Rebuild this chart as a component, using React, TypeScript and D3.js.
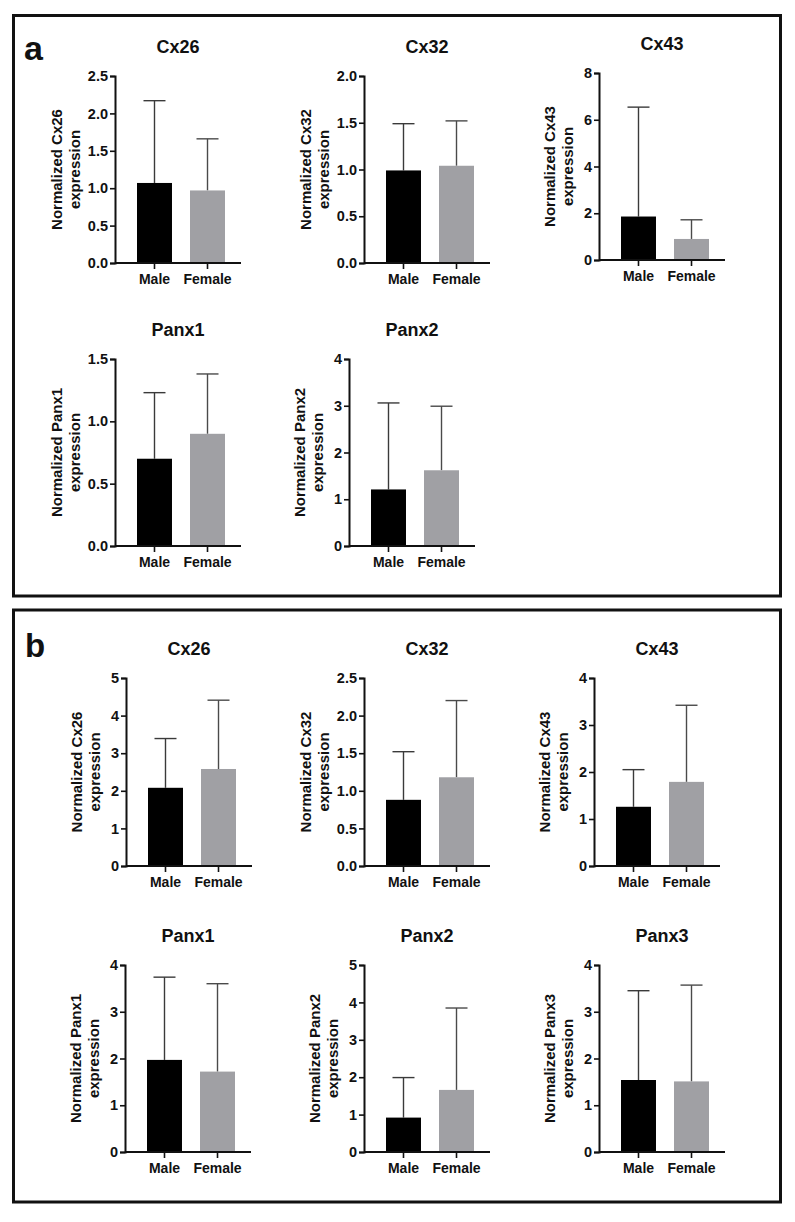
import React, { useEffect, useRef } from "react";
import * as d3 from "d3";

// sex groups
const groups = ["Male", "Female"];

// panel a
const genesA = ["Cx26", "Cx32", "Cx43", "Panx1", "Panx2"];
const maleA = [1.07, 0.99, 1.86, 0.7, 1.21];
const maleTopA = [2.17, 1.49, 6.54, 1.23, 3.06];
const femaleA = [0.97, 1.04, 0.9, 0.9, 1.62];
const femaleTopA = [1.66, 1.52, 1.72, 1.38, 2.99];
const yMaxA = [2.5, 2.0, 8, 1.5, 4];
const yStepA = [0.5, 0.5, 2, 0.5, 1];

// panel b
const genesB = ["Cx26", "Cx32", "Cx43", "Panx1", "Panx2", "Panx3"];
const maleB = [2.08, 0.88, 1.26, 1.97, 0.92, 1.54];
const maleTopB = [3.39, 1.52, 2.05, 3.74, 1.99, 3.45];
const femaleB = [2.58, 1.18, 1.79, 1.72, 1.66, 1.51];
const femaleTopB = [4.41, 2.2, 3.42, 3.6, 3.85, 3.57];
const yMaxB = [5, 2.5, 4, 4, 5, 4];
const yStepB = [1, 0.5, 1, 1, 1, 1];

// where each little plot sits (y-axis x, top of axis, bottom of axis)
const layoutA = [
    { x: 115, top: 76, bottom: 263 },
    { x: 364, top: 76, bottom: 263 },
    { x: 599, top: 73, bottom: 260 },
    { x: 115, top: 359, bottom: 546 },
    { x: 349, top: 359, bottom: 546 },
];
const layoutB = [
    { x: 126, top: 678, bottom: 866 },
    { x: 364, top: 678, bottom: 866 },
    { x: 594, top: 678, bottom: 866 },
    { x: 125, top: 965, bottom: 1152 },
    { x: 364, top: 965, bottom: 1152 },
    { x: 599, top: 965, bottom: 1152 },
];

const FONT = "'Liberation Sans', Arial, Helvetica, sans-serif";
const barColors = { Male: "#000000", Female: "#a0a0a4" };
const errColors = { Male: "#3a3a3a", Female: "#4a4a4a" };
const AXIS_LEN = 126;

function BarPlot({ gene, values, tops, yMax, yStep, pos }) {
    const yAxisRef = useRef(null);
    const xAxisRef = useRef(null);

    const decimal = yStep < 1;
    const y = d3.scaleLinear().domain([0, yMax]).range([pos.bottom - pos.top, 0]);
    const x = d3.scaleBand().domain(groups).range([22, 110]).paddingInner(0.34);
    const h = pos.bottom - pos.top;

    useEffect(() => {
        const ticks = d3.range(0, yMax + yStep / 2, yStep);
        const yAxis = d3
            .axisLeft(y)
            .tickValues(ticks)
            .tickSizeOuter(0)
            .tickSize(5)
            .tickPadding(2)
            .tickFormat(decimal ? d3.format(".1f") : d3.format("d"));
        const gy = d3.select(yAxisRef.current);
        gy.selectAll("*").remove();
        gy.call(yAxis);
        gy.select(".domain").attr("stroke-width", 2).attr("stroke", "#111");
        gy.selectAll(".tick line").attr("stroke-width", 1.6).attr("stroke", "#111");
        gy.selectAll(".tick text")
            .attr("font-family", FONT)
            .attr("font-weight", "bold")
            .attr("font-size", 14.5)
            .attr("fill", "#111");

        const xAxis = d3.axisBottom(x).tickSize(6).tickPadding(5).tickSizeOuter(0);
        const gx = d3.select(xAxisRef.current);
        gx.selectAll("*").remove();
        gx.call(xAxis);
        gx.select(".domain").remove();
        gx.selectAll(".tick line").attr("stroke-width", 1.6).attr("stroke", "#111");
        gx.selectAll(".tick text")
            .attr("font-family", FONT)
            .attr("font-weight", "bold")
            .attr("font-size", 14)
            .attr("fill", "#111");
    }, [gene, yMax, yStep]);

    const labelOff = decimal ? 58 : 49;
    const capHalf = 11;

    return (
        <g transform={`translate(${pos.x},${pos.top})`}>
            <text
                x={AXIS_LEN / 2}
                y={-23}
                textAnchor="middle"
                fontFamily={FONT}
                fontWeight="bold"
                fontSize={18}
                fill="#111"
            >
                {gene}
            </text>
            <g transform={`translate(${-labelOff},${h / 2}) rotate(-90)`}>
                <text textAnchor="middle" dy="0.35em" fontFamily={FONT} fontWeight="bold" fontSize={15} fill="#111">
                    {`Normalized ${gene}`}
                </text>
            </g>
            <g transform={`translate(${-labelOff + 18},${h / 2}) rotate(-90)`}>
                <text textAnchor="middle" dy="0.35em" fontFamily={FONT} fontWeight="bold" fontSize={15} fill="#111">
                    expression
                </text>
            </g>
            {groups.map((g, i) => {
                const cx = x(g) + x.bandwidth() / 2;
                return (
                    <g key={g}>
                        <line x1={cx} x2={cx} y1={y(values[i])} y2={y(tops[i])} stroke={errColors[g]} strokeWidth={1.4} />
                        <line x1={cx - capHalf} x2={cx + capHalf} y1={y(tops[i])} y2={y(tops[i])} stroke={errColors[g]} strokeWidth={1.4} />
                        <rect x={x(g)} y={y(values[i])} width={x.bandwidth()} height={y(0) - y(values[i])} fill={barColors[g]} />
                    </g>
                );
            })}
            <g ref={xAxisRef} transform={`translate(0,${h})`} />
            <line x1={0} x2={AXIS_LEN} y1={h} y2={h} stroke="#111" strokeWidth={2} />
            <g ref={yAxisRef} />
        </g>
    );
}

export default function App() {
    return (
        <svg
            width={795}
            height={1222}
            style={{ position: "absolute", left: 0, top: 0, background: "#fff" }}
        >
            <rect x={0} y={0} width={795} height={1222} fill="#fff" />
            <rect x={13.5} y={15.5} width={767} height={580.5} fill="none" stroke="#111" strokeWidth={3} />
            <rect x={13.5} y={610} width={767} height={592} fill="none" stroke="#111" strokeWidth={3} />
            <text x={24} y={60} fontFamily={FONT} fontWeight="bold" fontSize={34} fill="#111">a</text>
            <text x={25} y={657} fontFamily={FONT} fontWeight="bold" fontSize={33} fill="#111">b</text>
            {genesA.map((g, i) => (
                <BarPlot
                    key={"a" + g}
                    gene={g}
                    values={[maleA[i], femaleA[i]]}
                    tops={[maleTopA[i], femaleTopA[i]]}
                    yMax={yMaxA[i]}
                    yStep={yStepA[i]}
                    pos={layoutA[i]}
                />
            ))}
            {genesB.map((g, i) => (
                <BarPlot
                    key={"b" + g}
                    gene={g}
                    values={[maleB[i], femaleB[i]]}
                    tops={[maleTopB[i], femaleTopB[i]]}
                    yMax={yMaxB[i]}
                    yStep={yStepB[i]}
                    pos={layoutB[i]}
                />
            ))}
        </svg>
    );
}
